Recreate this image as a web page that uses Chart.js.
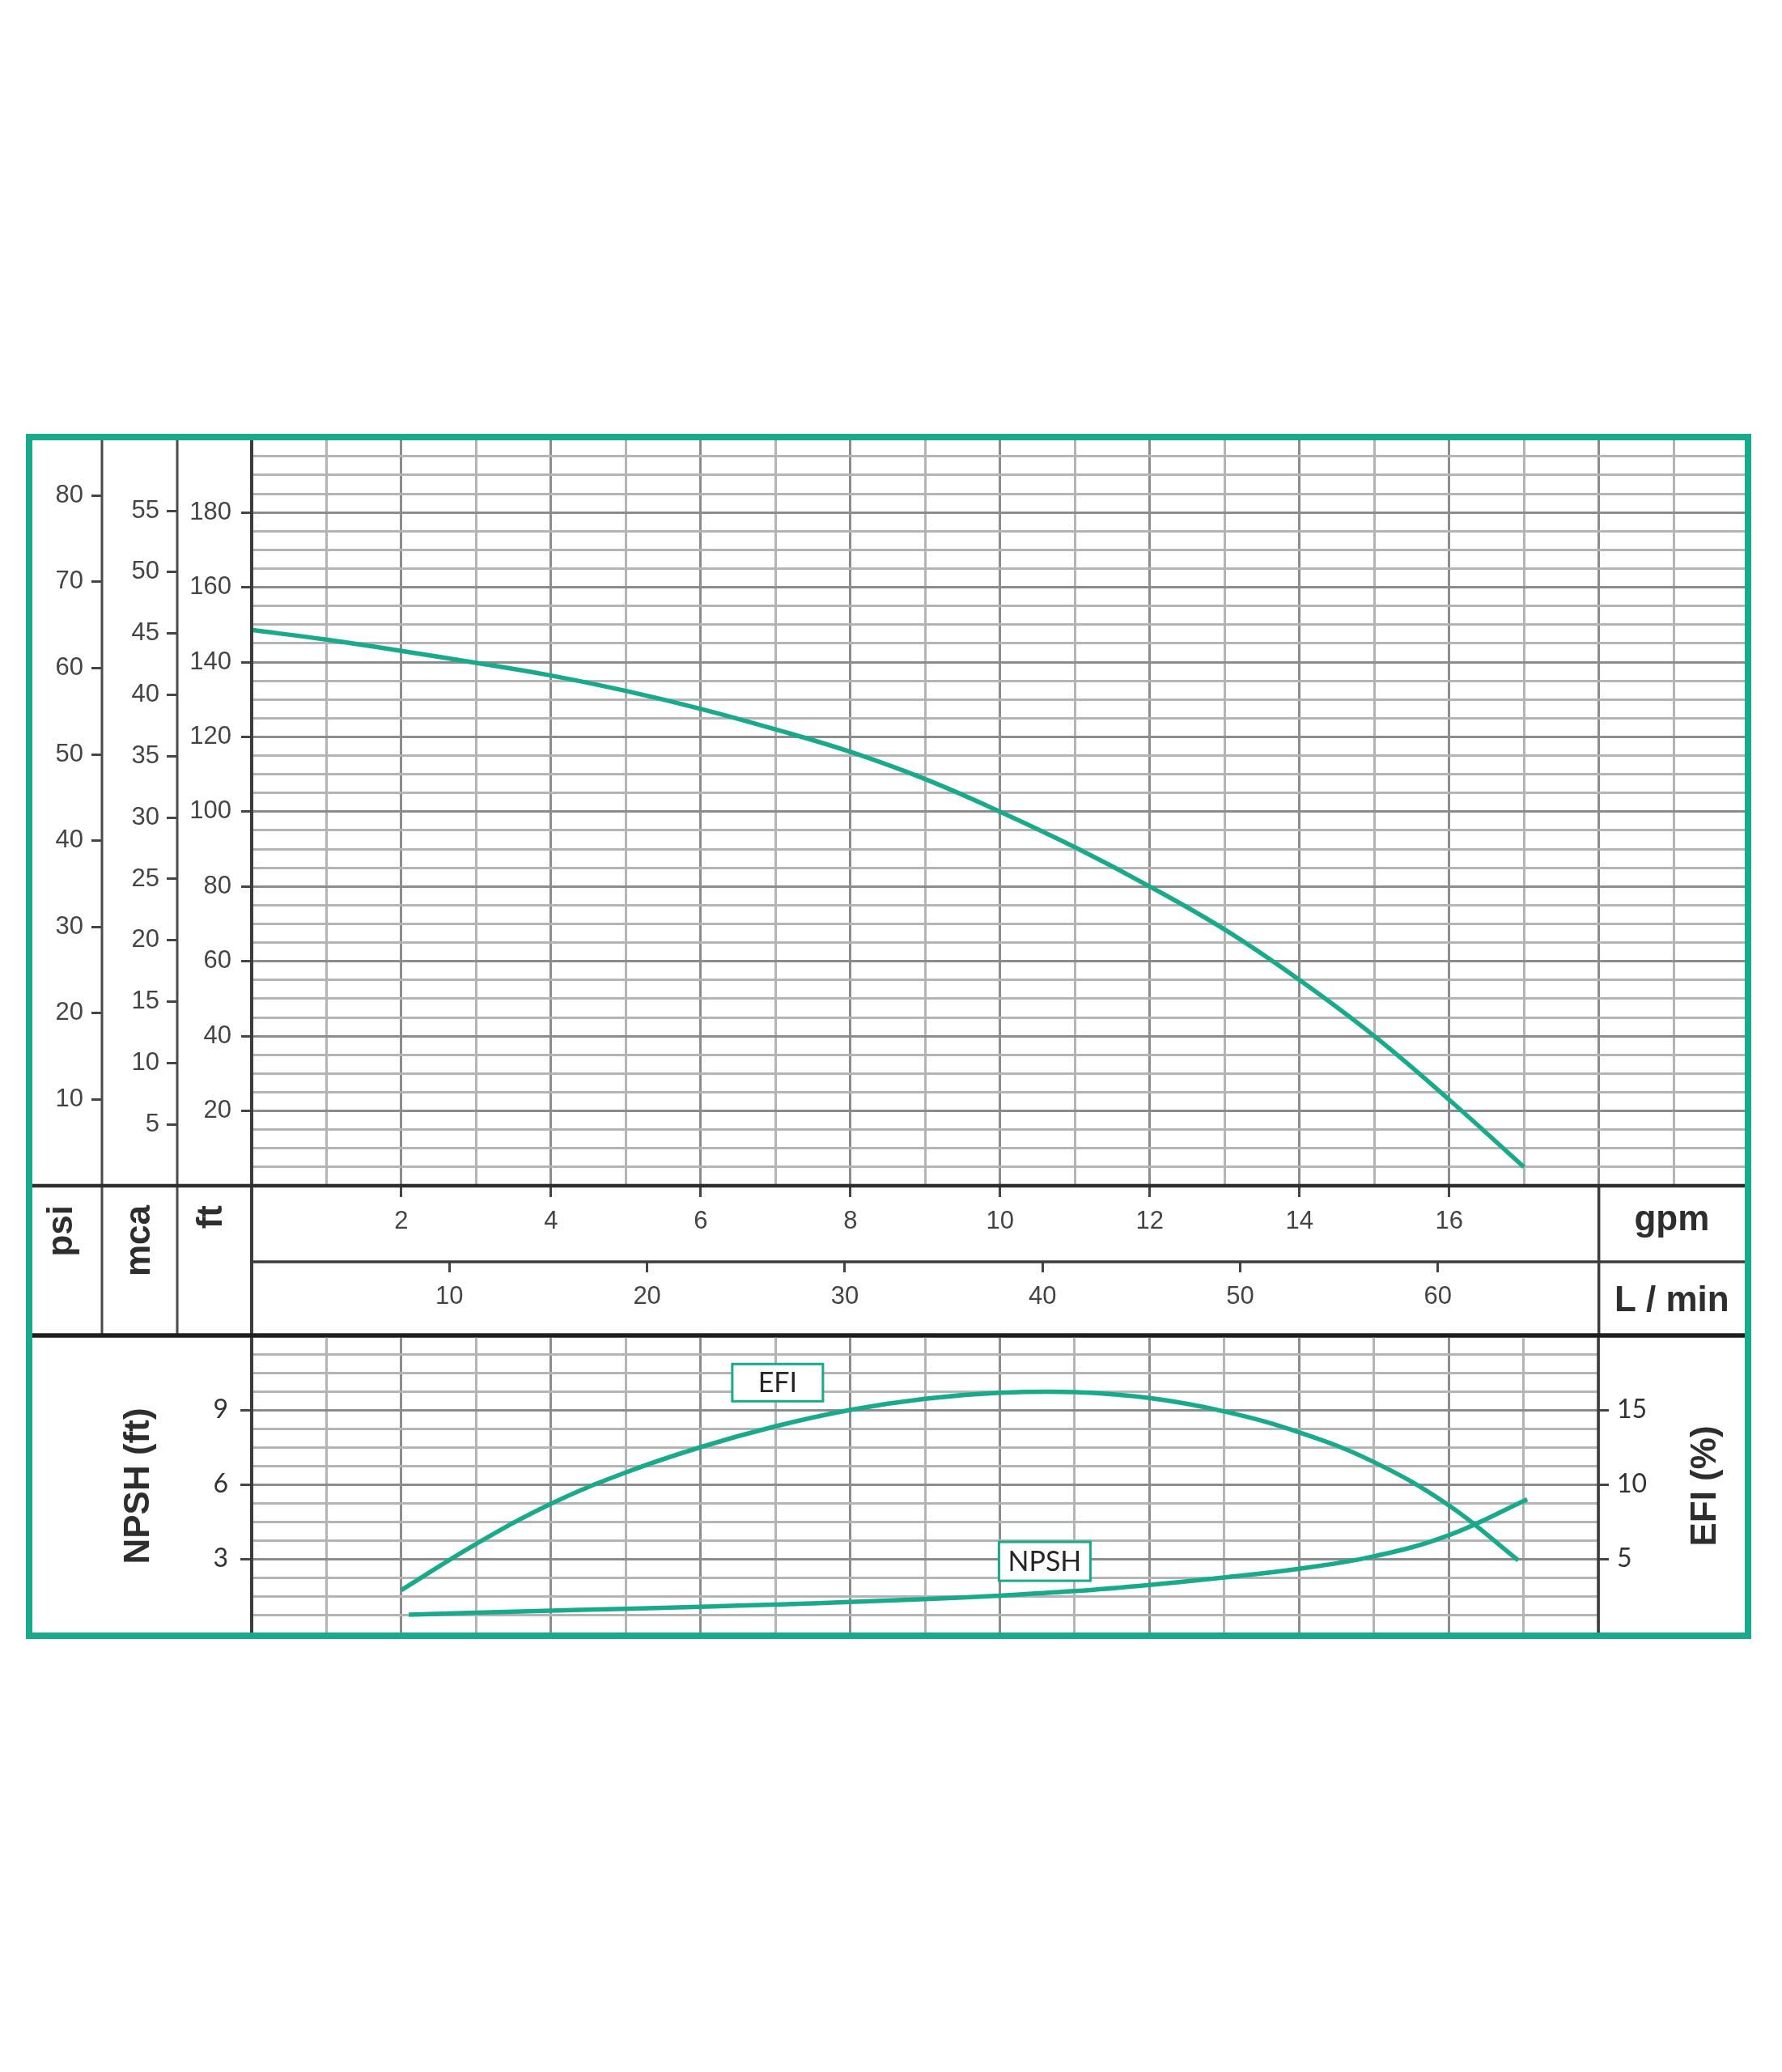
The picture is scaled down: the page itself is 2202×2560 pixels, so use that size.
<!DOCTYPE html>
<html>
<head>
<meta charset="utf-8">
<script src="https://cdn.jsdelivr.net/npm/chart.js"></script>
<style>
  html, body { margin: 0; padding: 0; background: #fff; }
  #page { position: relative; width: 2202px; height: 2560px; background: #fff; overflow: hidden; }
  canvas { position: absolute; }
  #curve { left: 40px; top: 544px; }
  #npsh { left: 40px; top: 1644px; }
  #frame { position: absolute; left: 32px; top: 536px; width: 2132px; height: 1489px;
           box-sizing: border-box; border: 8px solid #18aa8a; pointer-events: none; }
</style>
</head>
<body>
<div id="page">
  <canvas id="curve" width="2116" height="1109"></canvas>
  <canvas id="npsh" width="2116" height="374"></canvas>
  <div id="frame"></div>
</div>
<script>
// head curve (ft) against flow (gpm)
var flowGpm = [0, 1, 2, 3, 4, 5, 6, 7, 8, 9, 10, 11, 12, 13, 14, 15, 16, 17];
var headFt  = [148.6, 146.0, 143.0, 139.8, 136.4, 132.3, 127.5, 122.0, 116.0, 108.7, 100.0, 90.5, 80.0, 68.5, 55.0, 40.0, 23.0, 5.0];

// efficiency (%) and NPSH (ft) against flow (gpm)
var efiGpm  = [2, 3, 4, 5, 6, 7, 8, 9, 10, 11, 12, 13, 14, 15, 16, 16.93];
var efiPct  = [2.9, 6.0, 8.7, 10.8, 12.5, 13.9, 15.0, 15.75, 16.15, 16.2, 15.8, 14.9, 13.5, 11.5, 8.6, 4.9];
var npshGpm = [2.1, 3, 4, 5, 6, 7, 8, 9, 10, 11, 12, 13, 14, 15, 16, 17.05];
var npshFt  = [0.75, 0.83, 0.91, 0.99, 1.07, 1.16, 1.26, 1.38, 1.52, 1.70, 1.95, 2.25, 2.6, 3.1, 3.95, 5.4];

// tick labels
var psiLabels  = [10, 20, 30, 40, 50, 60, 70, 80];
var mcaLabels  = [5, 10, 15, 20, 25, 30, 35, 40, 45, 50, 55];
var ftLabels   = [20, 40, 60, 80, 100, 120, 140, 160, 180];
var gpmLabels  = [2, 4, 6, 8, 10, 12, 14, 16];
var lpmLabels  = [10, 20, 30, 40, 50, 60];
var npshLabels = [3, 6, 9];
var efiLabels  = [5, 10, 15];

var FT_MAX = 199.3, GPM_MAX = 19.95, GPM_LOW = 18;
var FT_PER_PSI = 2.30666, FT_PER_M = 3.28084, LPM_PER_GPM = 3.78541;

var TEAL = '#18aa8a';
var INK = '#444';
var FONT = '"Liberation Sans", Arial, sans-serif';
var FONT2 = 'Lato, "Liberation Sans", sans-serif';
var DARK_GRID = '#8c8c8c', LIGHT_GRID = '#b4b4b4';

function near(list, v) {
  return list.some(function (t) { return Math.abs(t - v) < 1e-6; });
}
function label(list) {
  return function (v) { return near(list, v) ? String(v) : ''; };
}
function tickCol(list) {
  return function (c) { return c.tick && near(list, c.tick.value) ? INK : 'rgba(0,0,0,0)'; };
}
function every(step) {
  return function (c) {
    var v = c.tick ? c.tick.value : 0;
    return Math.abs(v / step - Math.round(v / step)) < 1e-6 ? DARK_GRID : LIGHT_GRID;
  };
}
function fixW(w) {
  return function (s) { s.width = w; s.paddingTop = 0; s.paddingBottom = 0; };
}
function fixH(h) {
  return function (s) { s.height = h; s.paddingLeft = 0; s.paddingRight = 0; };
}
function pts(xs, ys) {
  return xs.map(function (x, i) { return { x: x, y: ys[i] }; });
}
function line(c, x1, y1, x2, y2, w, col) {
  c.beginPath();
  c.lineWidth = w;
  c.strokeStyle = col;
  c.moveTo(x1, y1);
  c.lineTo(x2, y2);
  c.stroke();
}
function vtext(c, txt, x, y, align) {
  c.save();
  c.translate(x, y);
  c.rotate(-Math.PI / 2);
  c.textAlign = align;
  c.textBaseline = 'alphabetic';
  c.fillText(txt, 0, 0);
  c.restore();
}

var tickFont = { family: FONT, size: 31 };
var lowFont = { family: FONT2, size: 32 };

var upperTable = {
  id: 'upperTable',
  afterDraw: function (chart) {
    var c = chart.ctx, a = chart.chartArea, s = chart.scales;
    var W = chart.width, yEnd = s.lpm.bottom;
    var xDiv = s.x.getPixelForValue(GPM_LOW);
    c.save();
    line(c, s.psi.right, 0, s.psi.right, yEnd, 3, '#4a4a4a');
    line(c, s.mca.right, 0, s.mca.right, yEnd, 3, '#4a4a4a');
    line(c, a.left, 0, a.left, yEnd, 4, '#3c3c3c');
    line(c, xDiv, a.bottom, xDiv, yEnd, 3.5, '#3c3c3c');
    line(c, 0, a.bottom, W, a.bottom, 4.5, '#2e2e2e');
    line(c, a.left, s.x.bottom, W, s.x.bottom, 3.5, '#3c3c3c');
    line(c, 0, yEnd, W, yEnd, 5, '#1e1e1e');

    c.fillStyle = '#2e2e2e';
    c.font = 'bold 44px ' + FONT;
    var top = a.bottom + 24;
    vtext(c, 'psi', (s.psi.left + s.psi.right) / 2 + 6, top, 'right');
    vtext(c, 'mca', (s.mca.left + s.mca.right) / 2 + 12, top, 'right');
    vtext(c, 'ft', (s.y.left + s.y.right) / 2 + 9, top, 'right');

    c.textAlign = 'center';
    c.textBaseline = 'alphabetic';
    c.fillText('gpm', (xDiv + W) / 2, (a.bottom + s.x.bottom) / 2 + 8);
    c.fillText('L / min', (xDiv + W) / 2, (s.x.bottom + yEnd) / 2 + 15);
    c.restore();
  }
};

var lowerTable = {
  id: 'lowerTable',
  afterDraw: function (chart) {
    var c = chart.ctx, a = chart.chartArea, s = chart.scales;
    var W = chart.width, H = chart.height;
    c.save();
    line(c, a.left, a.top, a.left, H, 4, '#3c3c3c');
    line(c, a.right, a.top, a.right, H, 3.5, '#3c3c3c');
    line(c, 0, a.top, W, a.top, 5, '#1e1e1e');

    c.fillStyle = '#2e2e2e';
    c.font = 'bold 44px ' + FONT;
    var mid = (a.top + a.bottom) / 2;
    vtext(c, 'NPSH (ft)', 144, mid + 2, 'center');
    vtext(c, 'EFI (%)', a.right + 145, mid + 2, 'center');

    // curve name tags
    var tags = [
      { txt: 'EFI', gpm: 7.03, ft: 10.1, w: 112, h: 46 },
      { txt: 'NPSH', gpm: 10.6, ft: 2.9, w: 113, h: 48 }
    ];
    c.font = '34px ' + FONT2;
    c.textAlign = 'center';
    c.textBaseline = 'middle';
    tags.forEach(function (t) {
      var cx = s.x.getPixelForValue(t.gpm), cy = s.y.getPixelForValue(t.ft);
      c.fillStyle = '#fff';
      c.fillRect(cx - t.w / 2, cy - t.h / 2, t.w, t.h);
      c.lineWidth = 3;
      c.strokeStyle = TEAL;
      c.strokeRect(cx - t.w / 2, cy - t.h / 2, t.w, t.h);
      c.fillStyle = '#262626';
      c.fillText(t.txt, cx, cy + 1);
    });
    c.restore();
  }
};

var curveChart = new Chart(document.getElementById('curve'), {
  type: 'line',
  data: {
    datasets: [{
      label: 'H',
      data: pts(flowGpm, headFt),
      borderColor: TEAL,
      borderWidth: 5.5,
      pointRadius: 0,
      fill: false,
      tension: 0.4
    }]
  },
  options: {
    responsive: false,
    animation: false,
    devicePixelRatio: 1,
    layout: { padding: { top: 0, left: 0, right: 0, bottom: 3 } },
    plugins: { legend: { display: false }, tooltip: { enabled: false } },
    scales: {
      x: {
        type: 'linear', position: 'bottom', min: 0, max: GPM_MAX, weight: 1,
        ticks: { stepSize: 1, autoSkip: false, includeBounds: false, maxRotation: 0, minRotation: 0,
                 padding: 12, font: tickFont, color: INK, callback: label(gpmLabels) },
        grid: { color: every(2), lineWidth: 3, tickLength: 14, tickWidth: 3, tickColor: tickCol(gpmLabels) },
        border: { display: false },
        afterFit: fixH(94)
      },
      lpm: {
        type: 'linear', position: 'bottom', min: 0, max: GPM_MAX * LPM_PER_GPM, weight: 2,
        ticks: { stepSize: 10, autoSkip: false, includeBounds: false, maxRotation: 0, minRotation: 0,
                 padding: 12, font: tickFont, color: INK, callback: label(lpmLabels) },
        grid: { drawOnChartArea: false, tickLength: 13, tickWidth: 3, tickColor: tickCol(lpmLabels) },
        border: { display: false },
        afterFit: fixH(91)
      },
      y: {
        type: 'linear', position: 'left', min: 0, max: FT_MAX, weight: 1,
        ticks: { stepSize: 5, autoSkip: false, includeBounds: false, padding: 12,
                 font: tickFont, color: INK, callback: label(ftLabels) },
        grid: { color: every(20), lineWidth: 3, tickLength: 13, tickWidth: 3, tickColor: tickCol(ftLabels) },
        border: { display: false },
        afterFit: fixW(92)
      },
      mca: {
        type: 'linear', position: 'left', min: 0, max: FT_MAX / FT_PER_M, weight: 2,
        ticks: { stepSize: 5, autoSkip: false, includeBounds: false, padding: 9,
                 font: tickFont, color: INK, callback: label(mcaLabels) },
        grid: { drawOnChartArea: false, tickLength: 13, tickWidth: 3, tickColor: tickCol(mcaLabels) },
        border: { display: false },
        afterFit: fixW(93)
      },
      psi: {
        type: 'linear', position: 'left', min: 0, max: FT_MAX / FT_PER_PSI, weight: 3,
        ticks: { stepSize: 10, autoSkip: false, includeBounds: false, padding: 10,
                 font: tickFont, color: INK, callback: label(psiLabels) },
        grid: { drawOnChartArea: false, tickLength: 13, tickWidth: 3, tickColor: tickCol(psiLabels) },
        border: { display: false },
        afterFit: fixW(86)
      }
    }
  },
  plugins: [upperTable]
});

var npshChart = new Chart(document.getElementById('npsh'), {
  type: 'line',
  data: {
    datasets: [{
      label: 'EFI',
      data: pts(efiGpm, efiPct),
      yAxisID: 'efi',
      borderColor: TEAL,
      borderWidth: 5.5,
      pointRadius: 0,
      fill: false,
      tension: 0.4
    }, {
      label: 'NPSH',
      data: pts(npshGpm, npshFt),
      yAxisID: 'y',
      borderColor: TEAL,
      borderWidth: 5.5,
      pointRadius: 0,
      fill: false,
      tension: 0.4
    }]
  },
  options: {
    responsive: false,
    animation: false,
    devicePixelRatio: 1,
    layout: { padding: { top: 6, left: 0, right: 0, bottom: 0 } },
    plugins: { legend: { display: false }, tooltip: { enabled: false } },
    scales: {
      x: {
        type: 'linear', position: 'bottom', min: 0, max: GPM_LOW,
        ticks: { display: false, stepSize: 1, autoSkip: false },
        grid: { color: every(2), lineWidth: 3, drawTicks: false },
        border: { display: false },
        afterFit: fixH(0)
      },
      y: {
        type: 'linear', position: 'left', min: 0, max: 12,
        ticks: { stepSize: 0.75, autoSkip: false, includeBounds: false, padding: 15,
                 font: lowFont, color: '#333', callback: label(npshLabels) },
        grid: { color: every(3), lineWidth: 3, tickLength: 14, tickWidth: 3, tickColor: tickCol(npshLabels) },
        border: { display: false },
        afterFit: fixW(271)
      },
      efi: {
        type: 'linear', position: 'right', min: 0, max: 20,
        ticks: { stepSize: 5, autoSkip: false, includeBounds: false, padding: 10,
                 font: lowFont, color: '#333', callback: label(efiLabels) },
        grid: { drawOnChartArea: false, tickLength: 13, tickWidth: 3, tickColor: tickCol(efiLabels) },
        border: { display: false },
        afterFit: fixW(181)
      }
    }
  },
  plugins: [lowerTable]
});
</script>
</body>
</html>
